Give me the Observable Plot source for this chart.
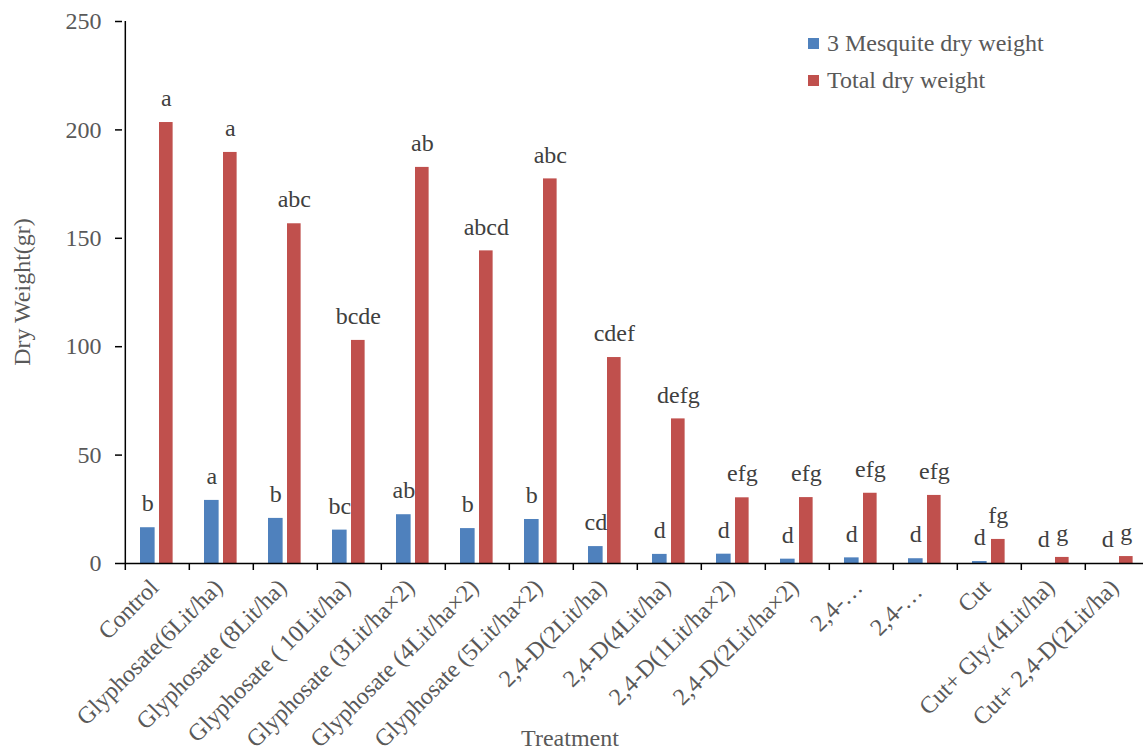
<!DOCTYPE html>
<html>
<head>
<meta charset="utf-8">
<script src="https://cdn.jsdelivr.net/npm/d3@7"></script>
<script src="https://cdn.jsdelivr.net/npm/@observablehq/plot@0.6"></script>
<style>
  html, body { margin: 0; padding: 0; background: #fff; }
  #wrap { position: relative; width: 1143px; height: 752px; font-family: "Liberation Serif", "Times New Roman", serif; color: #595959; }
  #legend { position: absolute; left: 808px; top: 25px; font-size: 24px; line-height: 37px; }
  #legend .row { display: flex; align-items: center; white-space: nowrap; }
  #legend .sw { width: 11px; height: 11px; margin-right: 8px; display: inline-block; }
  #ytitle { position: absolute; left: 22px; top: 292px; transform: translate(-50%, -50%) rotate(-90deg); font-size: 24px; white-space: nowrap; }
  #xtitle { position: absolute; left: 570px; top: 738px; transform: translate(-50%, -50%); font-size: 24px; white-space: nowrap; }
</style>
</head>
<body>
<div id="wrap">
  <div id="chart"></div>
  <div id="legend"></div>
  <div id="ytitle"></div>
  <div id="xtitle"></div>
</div>
<script>
const treatments = [
  "Control",
  "Glyphosate(6Lit/ha)",
  "Glyphosate (8Lit/ha)",
  "Glyphosate ( 10Lit/ha)",
  "Glyphosate (3Lit/ha×2)",
  "Glyphosate (4Lit/ha×2)",
  "Glyphosate (5Lit/ha×2)",
  "2,4-D(2Lit/ha)",
  "2,4-D(4Lit/ha)",
  "2,4-D(1Lit/ha×2)",
  "2,4-D(2Lit/ha×2)",
  "2,4-…",
  "2,4-… ",
  "Cut",
  "Cut+ Gly.(4Lit/ha)",
  "Cut+ 2,4-D(2Lit/ha)"
];
const mesquiteWeight = [16.5, 29.1, 20.8, 15.4, 22.5, 16.1, 20.3, 7.8, 4.2, 4.3, 2.0, 2.6, 2.2, 0.9, 0, 0];
const totalWeight = [203.4, 189.6, 156.7, 102.9, 182.7, 144.2, 177.4, 95.0, 66.7, 30.3, 30.4, 32.4, 31.4, 11.1, 2.8, 3.2];
const mesquiteLetters = ["b", "a", "b", "bc", "ab", "b", "b", "cd", "d", "d", "d", "d", "d", "d", "d", "d"];
const totalLetters = ["a", "a", "abc", "bcde", "ab", "abcd", "abc", "cdef", "defg", "efg", "efg", "efg", "efg", "fg", "g", "g"];
const seriesNames = ["3 Mesquite dry weight", "Total dry weight"];
const seriesColors = ["#4F81BD", "#C0504D"];
const yTicks = [0, 50, 100, 150, 200, 250];
const yTitle = "Dry Weight(gr)";
const xTitle = "Treatment";

const rows = treatments.map((t, i) => ({
  t, m: mesquiteWeight[i], tot: totalWeight[i], ml: mesquiteLetters[i], tl: totalLetters[i]
}));

const W = 1143, H = 752;
const x0 = 122, x1 = 1152;
const bw = (x1 - x0) / treatments.length;
const textColor = "#595959";
const FS = 24;

const chart = Plot.plot({
  width: W,
  height: H,
  marginLeft: x0,
  marginRight: W - x1,
  marginTop: 21,
  marginBottom: 189,
  style: { fontFamily: "Liberation Serif, Times New Roman, serif", fontSize: FS + "px", color: textColor, background: "#fff", overflow: "visible" },
  x: { domain: treatments, range: [x0, x1], padding: 0, label: null },
  y: { domain: [0, 250], label: null },
  marks: [
    Plot.barY(rows, { x: "t", y: "m", fill: seriesColors[0], insetLeft: 15, insetRight: bw - 30 }),
    Plot.barY(rows, { x: "t", y: "tot", fill: seriesColors[1], insetLeft: 34, insetRight: bw - 48 }),
    Plot.text(rows, { x: "t", y: "m", text: "ml", dx: 22.5 - bw / 2, dy: -24, fill: "#404040", fontSize: FS }),
    Plot.text(rows, { x: "t", y: "tot", text: "tl", dx: 41 - bw / 2, dy: -24, fill: "#404040", fontSize: FS }),
    Plot.ruleY([0], { stroke: "black", strokeWidth: 1.5 }),
    Plot.ruleX([treatments[0]], { dx: -bw / 2, y1: 0, y2: 250, stroke: "black", strokeWidth: 1.5 }),
    Plot.ruleX(treatments, { x: d => d, dx: -bw / 2, y1: 0, y2: 0, insetBottom: -7, stroke: "black", strokeWidth: 1.5 }),
    Plot.axisY({ ticks: yTicks, tickSize: 7, tickPadding: 14, stroke: "black", strokeWidth: 1.5, fill: textColor, fontSize: FS, label: null }),
    Plot.axisX({ tickSize: 0, tickRotate: -45, tickPadding: 20, dx: -3, fill: textColor, fontSize: FS, label: null })
  ]
});
document.getElementById("chart").appendChild(chart);

const legend = document.getElementById("legend");
seriesNames.forEach((n, i) => {
  const row = document.createElement("div");
  row.className = "row";
  const sw = document.createElement("span");
  sw.className = "sw";
  sw.style.background = seriesColors[i];
  const tx = document.createElement("span");
  tx.textContent = n;
  row.appendChild(sw);
  row.appendChild(tx);
  legend.appendChild(row);
});
document.getElementById("ytitle").textContent = yTitle;
document.getElementById("xtitle").textContent = xTitle;
</script>
</body>
</html>
